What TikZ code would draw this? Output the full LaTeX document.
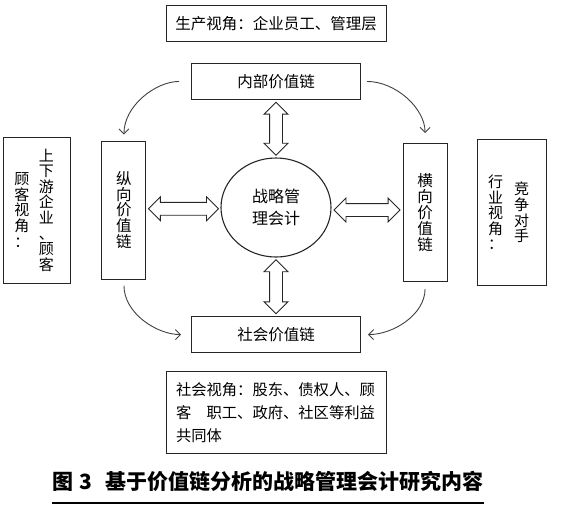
\documentclass[tikz,border=0pt]{standalone}
\usepackage{fontspec}
\setmainfont{Noto Sans CJK SC}
\usetikzlibrary{positioning, shapes.geometric, shapes.arrows, arrows.meta, calc}

\begin{document}
\begin{tikzpicture}[x=1pt, y=1pt, node distance=20pt and 30pt]
            \tikzstyle{view} = [rectangle, draw=black!85, line width=1pt,
                text centered, inner sep=0pt, font=\fontsize{15.5pt}{15.6pt}\selectfont]
            \tikzstyle{chain} = [rectangle, draw=black!85, line width=1pt,
                minimum width=169pt, minimum height=36pt, text centered, font=\fontsize{15.5pt}{18pt}\selectfont]
            \tikzstyle{vchain} = [chain, minimum width=44pt, minimum height=138pt,
                align=center, inner sep=0pt, font=\fontsize{15.5pt}{15.8pt}\selectfont]
            \tikzstyle{hub} = [ellipse, draw=black!85, line width=1.1pt,
                minimum width=110pt, minimum height=99pt, align=center, font=\fontsize{16pt}{22pt}\selectfont]
            \tikzstyle{link} = [double arrow, draw=black!85, line width=0.9pt, fill=white,
                double arrow head extend=5.5pt, minimum width=23pt, inner sep=6pt]
            \tikzstyle{flow} = [draw=black!75, line width=0.9pt, -{Straight Barb[length=5pt, width=10pt]}]
            \tikzstyle{vcol} = [align=center, inner sep=0pt, font=\fontsize{15pt}{15.6pt}\selectfont]

            \useasboundingbox (0,0) rectangle (562,-515);

            \node [hub] (hub) at (276,-207.5) {战略管\\理会计};
            \node [chain, above=57.5pt of hub] (inner) {内部价值链};
            \node [chain, below=58.5pt of hub] (social) {社会价值链};
            \node [vchain, left=74pt of hub, yshift=-2.5pt] (vert) {纵\\向\\价\\值\\链};
            \node [vchain, right=71pt of hub, yshift=-5pt] (horz) {横\\向\\价\\值\\链};
            \node [view, above=21pt of inner, minimum width=220pt, minimum height=36pt] (prod) {生产视角：企业员工、管理层};
            \node [view, below=18pt of social, text width=200pt, align=left, inner xsep=10pt,
                minimum height=82pt, font=\fontsize{15.3pt}{23pt}\selectfont] (soc)
                {社会视角：股东、债权人、顾\\客　职工、政府、社区等利益\\共同体};
            \node [view, left=30pt of vert, minimum width=67pt, minimum height=146pt] (updown) {};
            \node [view, right=29pt of horz, minimum width=69pt, minimum height=146pt] (rival) {};

            \node [vcol] (udA) at ([xshift=-15.5pt]updown.center) {顾\\客\\视\\角\\：};
            \node [vcol] (udB) at ([xshift=9pt]updown.center) {上\\下\\游\\企\\业\\、\\顾\\客};
            \node [vcol] (rvA) at ([xshift=-16pt]rival.center) {行\\业\\视\\角\\：};
            \node [vcol] (rvB) at ([xshift=10pt]rival.center) {竞\\争\\对\\手};

            \node [link, shape border rotate=90, minimum height=53pt] (upL) at ($(inner.south)!0.5!(hub.north)$) {};
            \node [link, shape border rotate=90, minimum height=54pt] (dnL) at ($(hub.south)!0.5!(social.north)$) {};
            \node [link, minimum height=70pt] (lfL) at ($(vert.east)!0.5!(hub.west)$) {};
            \node [link, minimum height=66pt] (rtL) at ($(hub.east)!0.5!(horz.west)$) {};

            \path [flow, shorten <=12pt, shorten >=6pt] (inner.west) to[out=180, in=90] (vert.north);
            \path [flow, shorten <=6pt, shorten >=10pt] (inner.east) to[out=0, in=90] (horz.north);
            \path [flow, shorten <=6pt, shorten >=10pt] (vert.south) to[out=-90, in=180] (social.west);
            \path [flow, shorten <=7pt, shorten >=7pt] (horz.south) to[out=-90, in=0] (social.east);

            \node [anchor=base, inner xsep=0pt, font=\fontsize{21pt}{24pt}\selectfont\bfseries] (cap) at (268,-489)
                {图\hspace{6pt}3\hspace{13pt}基于价值链分析的战略管理会计研究内容};
            \draw [line width=2.5pt] ([yshift=-14pt]cap.base west) -- ([yshift=-14pt]cap.base east);
        \end{tikzpicture}
\end{document}
